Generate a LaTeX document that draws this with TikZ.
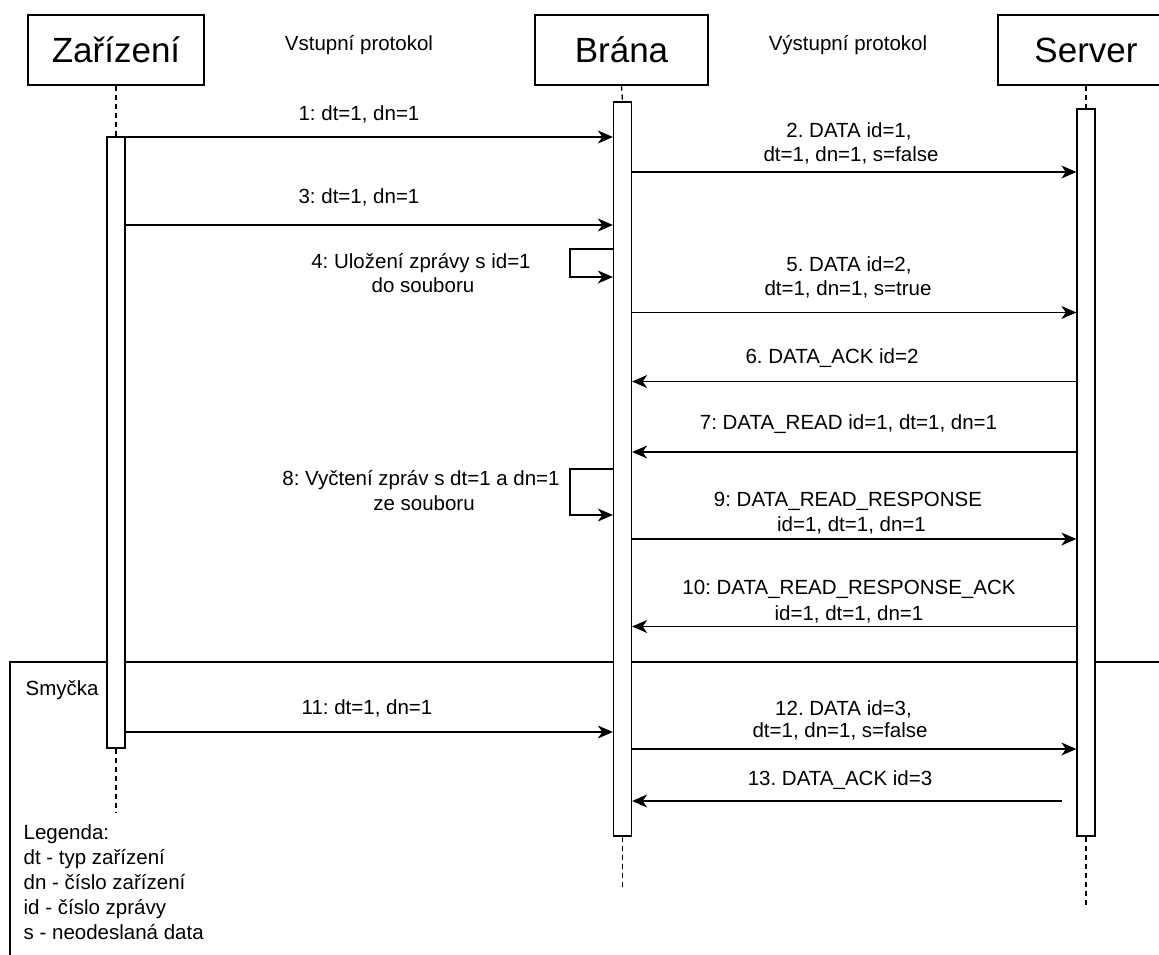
\documentclass[tikz,border=0pt]{standalone}
\usepackage{fontspec}
\setmainfont{Liberation Sans}
\usetikzlibrary{arrows.meta}
\frenchspacing
\begin{document}
\begin{tikzpicture}[x=1pt,y=-1pt,line width=1.3pt,
  part/.style={draw,rectangle,minimum width=176pt,minimum height=70pt,inner sep=0pt,
    font=\fontsize{35}{42}\selectfont,text height=25pt,text depth=0pt},
  actbar/.style={draw,fill=white,rectangle,minimum width=18pt,inner sep=0pt},
  life/.style={dash pattern=on 5pt off 4pt},
  msg/.style={-{Stealth[length=15pt,width=13pt,inset=4.5pt]}},
  lbl/.style={font=\fontsize{20.5}{24.5}\selectfont,anchor=base,inner sep=0pt},
  lgd/.style={font=\fontsize{20.5}{24.5}\selectfont,anchor=base west,inner sep=0pt}]
\useasboundingbox (0,0) rectangle (1159,954);
\clip (0,0) rectangle (1159,954);

% participants
\node[part] (dev) at (116,50) {Zařízení};
\node[part,minimum width=173pt] (gw) at (621.5,50) {Brána};
\node[part] (srv) at (1086,50) {Server};

\node[lbl] (inp) at (359,50) {Vstupní protokol};
\node[lbl] (outp) at (848,50) {Výstupní protokol};

% end points of lifelines
\coordinate (devend) at (116,813);
\coordinate (gwend) at (622.5,887);
\coordinate (srvend) at (1086,907);

% loop frame
\coordinate (frTR) at (1165,662);
\coordinate (frTL) at (10,662);
\coordinate (frBL) at (10,960);
\draw (frTR) -- (frTL) -- (frBL);
\node[lgd] (loopname) at (25,695.5) {Smyčka};

% activation bars
\node[actbar,minimum height=611pt] (devbar) at (116,442.5) {};
\node[actbar,minimum height=734pt] (gwbar) at (622.5,469) {};
\node[actbar,minimum height=727pt] (srvbar) at (1086,472.5) {};

% lifelines
\draw[life] (dev.south) -- (devbar.north);
\draw[life] (devbar.south) -- (devend);
\draw[life] (gw.south) -- (gwbar.north);
\draw[life] (gwbar.south) -- (gwend);
\draw[life] (srv.south) -- (srvbar.north);
\draw[life] (srvbar.south) -- (srvend);

% messages
\draw[msg] (devbar.east |- 0,137) -- (gwbar.west |- 0,137);
\node[lbl] (m1) at (359,120) {1: dt=1, dn=1};

\draw[msg] (gwbar.east |- 0,172) -- (srvbar.west |- 0,172);
\node[lbl] (m2a) at (849,137.7) {2. DATA id=1,};
\node[lbl] (m2b) at (851,161.7) {dt=1, dn=1, s=false};

\draw[msg] (devbar.east |- 0,225) -- (gwbar.west |- 0,225);
\node[lbl] (m3) at (359,203.3) {3: dt=1, dn=1};

\coordinate (loopx) at (570,0);
\draw[msg] (gwbar.west |- 0,249) -- (loopx |- 0,249) -- (loopx |- 0,277) -- (gwbar.west |- 0,277);
\node[lbl] (m4a) at (421,268.5) {4: Uložení zprávy s id=1};
\node[lbl] (m4b) at (423,292.5) {do souboru};

\draw[msg] (gwbar.east |- 0,312.5) -- (srvbar.west |- 0,312.5);
\node[lbl] (m5a) at (849,271) {5. DATA id=2,};
\node[lbl] (m5b) at (848,295.5) {dt=1, dn=1, s=true};

\draw[msg] (srvbar.west |- 0,381.5) -- (gwbar.east |- 0,381.5);
\node[lbl] (m6) at (832,363.5) {6. DATA\_ACK id=2};

\draw[msg] (srvbar.west |- 0,452) -- (gwbar.east |- 0,452);
\node[lbl] (m7) at (848.5,429.5) {7: DATA\_READ id=1, dt=1, dn=1};

\draw[msg] (gwbar.west |- 0,469) -- (loopx |- 0,469) -- (loopx |- 0,515) -- (gwbar.west |- 0,515);
\node[lbl] (m8a) at (421,485.5) {8: Vyčtení zpráv s dt=1 a dn=1};
\node[lbl] (m8b) at (424,510.5) {ze souboru};

\draw[msg] (gwbar.east |- 0,539) -- (srvbar.west |- 0,539);
\node[lbl] (m9a) at (848,506.5) {9: DATA\_READ\_RESPONSE};
\node[lbl] (m9b) at (851.5,531.5) {id=1, dt=1, dn=1};

\draw[msg] (srvbar.west |- 0,626.5) -- (gwbar.east |- 0,626.5);
\node[lbl] (m10a) at (849,594.5) {10: DATA\_READ\_RESPONSE\_ACK};
\node[lbl] (m10b) at (849,620.5) {id=1, dt=1, dn=1};

\draw[msg] (devbar.east |- 0,732) -- (gwbar.west |- 0,732);
\node[lbl] (m11) at (367,714.5) {11: dt=1, dn=1};

\draw[msg] (gwbar.east |- 0,749) -- (srvbar.west |- 0,749);
\node[lbl] (m12a) at (843.5,715.5) {12. DATA id=3,};
\node[lbl] (m12b) at (840,737.5) {dt=1, dn=1, s=false};

\coordinate (m13start) at (1062,801);
\draw[msg] (m13start) -- (gwbar.east |- m13start);
\node[lbl] (m13) at (840,785.5) {13. DATA\_ACK id=3};

% legend
\node[lgd] (lg1) at (23,839.3) {Legenda:};
\node[lgd] (lg2) at (23,864.3) {dt - typ zařízení};
\node[lgd] (lg3) at (23,889.3) {dn - číslo zařízení};
\node[lgd] (lg4) at (23,914.3) {id - číslo zprávy};
\node[lgd] (lg5) at (23,939.3) {s - neodeslaná data};
\end{tikzpicture}
\end{document}
